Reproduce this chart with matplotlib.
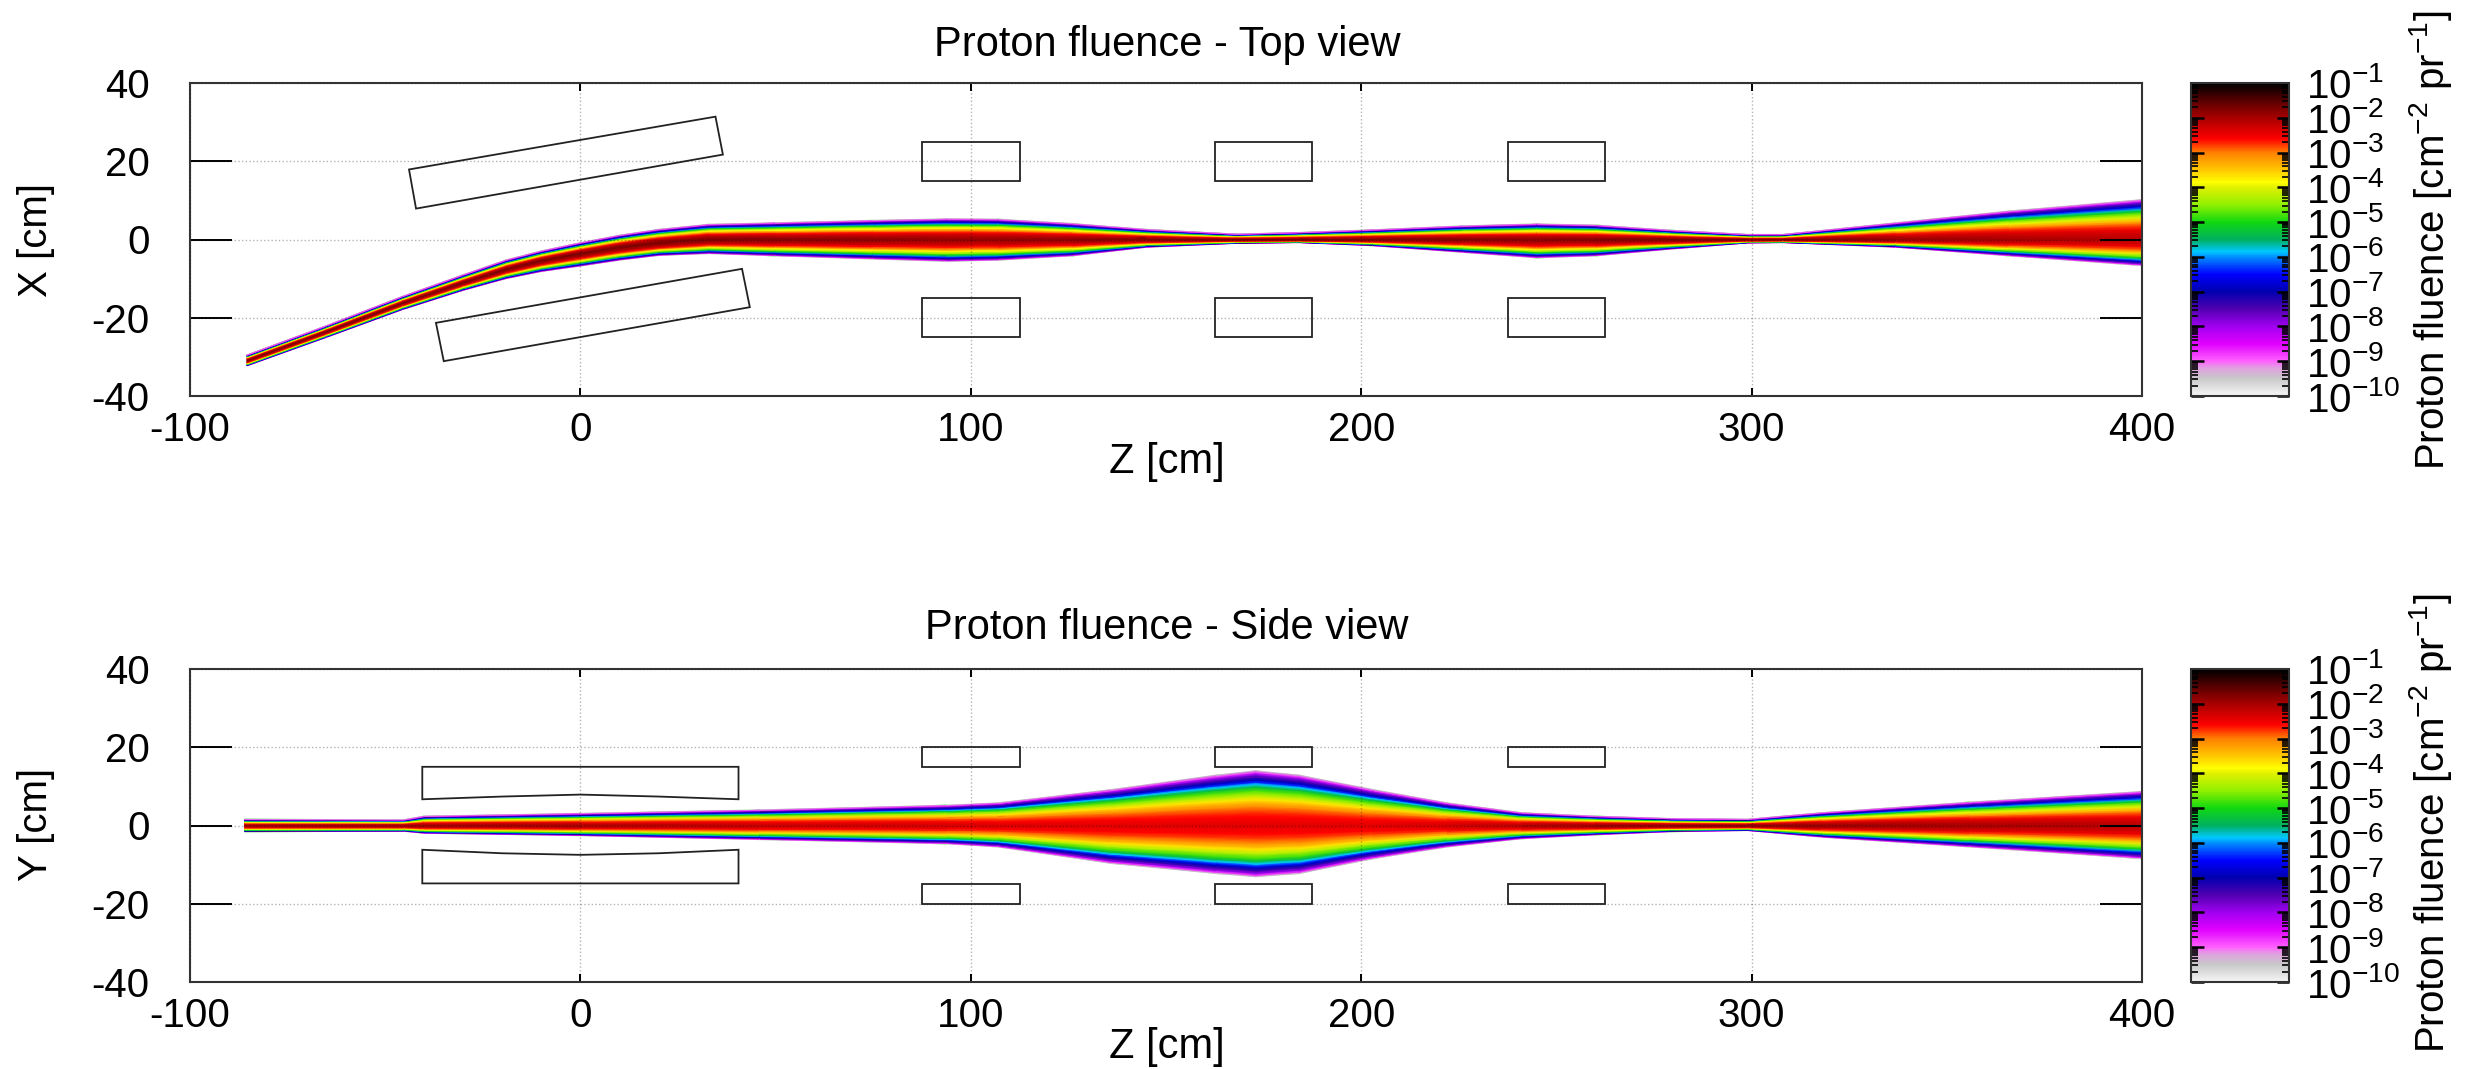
import matplotlib
matplotlib.use('Agg')
import matplotlib.pyplot as plt
from matplotlib.colors import LinearSegmentedColormap, LogNorm
from matplotlib.ticker import LogLocator, NullFormatter
import numpy as np

plt.rcParams['font.family'] = ['Liberation Sans', 'DejaVu Sans']
plt.rcParams['mathtext.fontset'] = 'custom'
plt.rcParams['mathtext.rm'] = 'Liberation Sans'
plt.rcParams['mathtext.default'] = 'rm'

W, H = 2473, 1069

# Top view beam: stations along Z, beam centre, upper and lower edge [cm]
top_z = [-85.4, -65, -45.5, -30, -19, -10, 0, 10, 20, 33, 50, 75, 94, 107, 126, 145, 168, 184, 203, 226, 245,
         260, 279, 299, 308, 337, 366, 400]
top_centre = [-30.9, -23.5, -16.2, -11, -7.6, -5.4, -3.6, -2.0, -0.9, 0, 0, 0, 0, 0, 0, 0, 0, 0, 0, 0, 0,
              0, 0, 0, 0, 0, 0, 0]
top_upper = [-29.5, -22, -14.5, -9, -5.2, -2.9, -0.8, 1.1, 2.6, 3.9, 4.3, 4.9, 5.3, 5.2, 4.1, 2.6, 1.4, 1.8, 2.5,
             3.5, 4.0, 3.7, 2.4, 1.3, 1.3, 4.3, 7.3, 10.2]
top_lower = [-32.3, -25, -17.9, -13, -10, -8.2, -6.8, -5.3, -4.1, -3.6, -4.2, -5.0, -5.6, -5.3, -4.2, -2.0, -1.0,
             -0.8, -1.6, -3.3, -4.7, -4.2, -2.5, -0.9, -0.8, -2.0, -4.2, -6.7]
top_peak = [-1.7, -1.7, -1.7, -1.7, -1.7, -1.7, -1.7, -1.7, -1.7, -1.75, -1.8, -1.85, -1.9, -1.9, -1.85, -1.8,
            -1.7, -1.7, -1.75, -1.8, -1.85, -1.8, -1.75, -1.7, -1.7, -1.9, -2.0, -2.1]

# Side view beam
side_z = [-86, -45, -40, 0, 46, 94, 107, 136, 163, 173, 184, 203, 222, 241, 260, 279, 299, 318, 356, 400]
side_centre = [0] * 20
side_upper = [1.6, 1.5, 2.4, 3.1, 4.0, 5.2, 5.8, 9.2, 12.9, 14.0, 12.9, 9.2, 5.8, 3.3, 2.4, 1.8, 1.6, 3.3, 6.0, 8.7]
side_lower = [-1.6, -1.5, -2.0, -2.6, -3.6, -4.7, -5.5, -9.7, -12.3, -13.1, -12.3, -8.5, -5.5, -3.4, -2.4, -1.6,
              -1.3, -3.0, -5.5, -8.5]
side_peak = [-1.9, -1.9, -1.9, -2.0, -2.2, -2.3, -2.35, -2.4, -2.4, -2.4, -2.4, -2.4, -2.3, -2.1, -1.9, -1.8, -1.8,
             -1.9, -2.0, -2.1]

# Beam profile: position between centre and edge, and how far up the log scale it is
profile_pos = [0, .16, .25, .35, .42, .47, .55, .64, .70, .75, .79, .83, .88, .93, .97, 1.0]
profile_level = [1, .97, .945, .90, .86, .82, .74, .66, .59, .515, .44, .37, .30, .22, .10, 0]
edge_log = -9.5

# Magnets
top_magnets = [
    [(-43.9, 17.9), (34.6, 31.4), (36.5, 21.7), (-42.1, 7.9)],
    [(-37, -21.3), (41.4, -7.5), (43.4, -17.3), (-35, -31.1)],
    [(87.5, 15), (112.5, 15), (112.5, 25), (87.5, 25)],
    [(162.5, 15), (187.5, 15), (187.5, 25), (162.5, 25)],
    [(237.5, 15), (262.5, 15), (262.5, 25), (237.5, 25)],
    [(87.5, -25), (112.5, -25), (112.5, -15), (87.5, -15)],
    [(162.5, -25), (187.5, -25), (187.5, -15), (162.5, -15)],
    [(237.5, -25), (262.5, -25), (262.5, -15), (237.5, -15)],
]
side_magnets = [
    [(-40.5, 15), (40.5, 15), (40.5, 6.7), (20, 7.4), (0, 7.9), (-20, 7.4), (-40.5, 6.7)],
    [(-40.5, -14.8), (40.5, -14.8), (40.5, -6.2), (20, -7.1), (0, -7.5), (-20, -7.1), (-40.5, -6.2)],
    [(87.5, 15), (112.5, 15), (112.5, 20), (87.5, 20)],
    [(162.5, 15), (187.5, 15), (187.5, 20), (162.5, 20)],
    [(237.5, 15), (262.5, 15), (262.5, 20), (237.5, 20)],
    [(87.5, -20), (112.5, -20), (112.5, -15), (87.5, -15)],
    [(162.5, -20), (187.5, -20), (187.5, -15), (162.5, -15)],
    [(237.5, -20), (262.5, -20), (262.5, -15), (237.5, -15)],
]

x_ticks = [-100, 0, 100, 200, 300, 400]
x_labels = ['-100', '0', '100', '200', '300', '400']
y_ticks = [-40, -20, 0, 20, 40]
y_labels = ['-40', '-20', '0', '20', '40']
cbar_exps = [-1, -2, -3, -4, -5, -6, -7, -8, -9, -10]

# Colour scale, log10 of fluence and colour
cmap_logs = [-10, -9.5, -9.2, -9, -8.5, -8, -7.5, -7, -6.5, -6, -5.85, -5.5, -5, -4.5, -4, -3.85, -3.5, -3, -2.6, -2,
             -1.7, -1]
cmap_cols = ['#f6f6f6', '#c8c8c8', '#e0a0e0', '#ff60ff', '#e000ff', '#a000f0', '#5000b0', '#0000b0', '#0000ff',
             '#0090ff', '#00c8ff', '#00b060', '#10d810', '#90f000', '#e0f000', '#ffff00', '#ffc800', '#ff8000',
             '#ff0000', '#a80000', '#7a0000', '#000000']
cmap = LinearSegmentedColormap.from_list(
    'fluence', [((l + 10) / 9, c) for l, c in zip(cmap_logs, cmap_cols)], N=512)
norm = LogNorm(1e-10, 1e-1)


def add_axes_px(left, top, right, bottom):
    return fig.add_axes([left / W, 1 - bottom / H, (right - left) / W, (bottom - top) / H])


def draw_view(ax, cax, z, centre, upper, lower, peak, magnets):
    z, centre, upper, lower, peak = map(np.array, (z, centre, upper, lower, peak))
    pos = np.array(profile_pos)
    level = np.array(profile_level)
    # rows go from the lower edge over the centre to the upper edge
    rows = np.concatenate([-pos[:0:-1], pos])
    lev = np.concatenate([level[:0:-1], level])
    zz = np.repeat(z[:, None], len(rows), axis=1)
    yy = np.where(rows[None, :] >= 0,
                  centre[:, None] + rows[None, :] * (upper - centre)[:, None],
                  centre[:, None] + rows[None, :] * (centre - lower)[:, None])
    cc = 10 ** (edge_log + (peak[:, None] - edge_log) * lev[None, :])
    mesh = ax.pcolormesh(zz, yy, cc, shading='gouraud', cmap=cmap, norm=norm)
    for m in magnets:
        ax.add_patch(plt.Polygon(m, closed=True, fill=False, ec='#222222', lw=1.3, zorder=3))
    ax.set_xlim(-100, 400)
    ax.set_ylim(-40, 40)
    ax.set_xticks(x_ticks, x_labels)
    ax.set_yticks(y_ticks, y_labels)
    ax.tick_params(axis='x', direction='in', top=True, length=6, width=1.4, labelsize=29, pad=11)
    ax.tick_params(axis='y', direction='in', right=True, length=30, width=1.4, labelsize=29, pad=29)
    ax.grid(True, color='black', alpha=0.3, ls=':', lw=1.0)
    for s in ax.spines.values():
        s.set_linewidth(1.5)
        s.set_color('#333333')
    # colour bar
    cb = fig.colorbar(mesh, cax=cax)
    cax.set_yticks([10.0 ** e for e in cbar_exps], [f'$10^{{{e}}}$' for e in cbar_exps])
    cax.yaxis.set_minor_locator(LogLocator(base=10, subs=range(2, 10), numticks=20))
    cax.yaxis.set_minor_formatter(NullFormatter())
    cax.tick_params(which='major', direction='in', left=True, right=True, length=9, width=1.8,
                    labelsize=29, pad=12)
    cax.tick_params(which='minor', direction='in', left=True, right=True, length=5, width=1.2)
    cb.outline.set_linewidth(1.5)
    cb.outline.set_edgecolor('#333333')


fig = plt.figure(figsize=(W / 100, H / 100), dpi=100)

ax1 = add_axes_px(190, 83, 2142, 396)
cax1 = add_axes_px(2191, 83, 2289, 396)
ax2 = add_axes_px(190, 669, 2142, 982)
cax2 = add_axes_px(2191, 669, 2289, 982)

draw_view(ax1, cax1, top_z, top_centre, top_upper, top_lower, top_peak, top_magnets)
draw_view(ax2, cax2, side_z, side_centre, side_upper, side_lower, side_peak, side_magnets)

fs = 29
fig.text(1167 / W, 1 - 45 / H, 'Proton fluence - Top view', ha='center', va='center', fontsize=30)
fig.text(1167 / W, 1 - 628 / H, 'Proton fluence - Side view', ha='center', va='center', fontsize=30)
fig.text(1167 / W, 1 - 462 / H, 'Z [cm]', ha='center', va='center', fontsize=30)
fig.text(1167 / W, 1 - 1047 / H, 'Z [cm]', ha='center', va='center', fontsize=30)
fig.text(36 / W, 1 - 240 / H, 'X [cm]', rotation=90, ha='center', va='center', fontsize=fs)
fig.text(36 / W, 1 - 824 / H, 'Y [cm]', rotation=90, ha='center', va='center', fontsize=fs)
cb_label = 'Proton fluence [cm$^{-2}$ pr$^{-1}$]'
fig.text(2430 / W, 1 - 240 / H, cb_label, rotation=90, ha='center', va='center', fontsize=fs)
fig.text(2430 / W, 1 - 823 / H, cb_label, rotation=90, ha='center', va='center', fontsize=fs)

fig.savefig('out.png', dpi=100)
